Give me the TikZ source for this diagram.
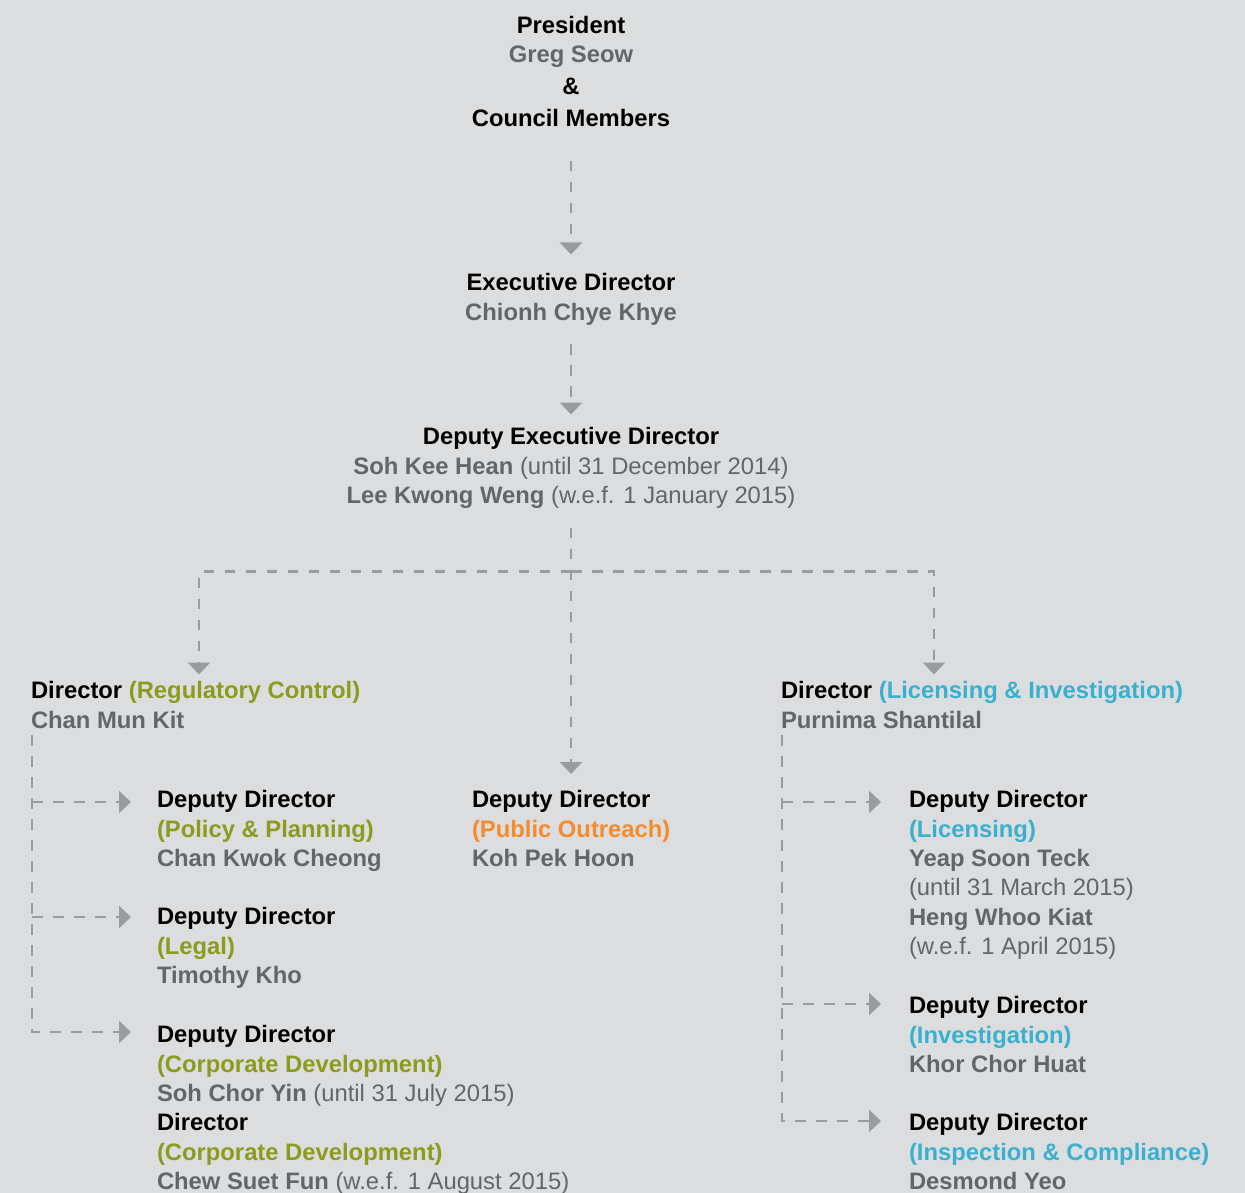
\documentclass[tikz,border=0pt]{standalone}
\usepackage{fontspec}
\setmainfont{Liberation Sans}
\usetikzlibrary{arrows.meta,calc}
\definecolor{bgc}{HTML}{DCDDDF}
\definecolor{namec}{HTML}{646568}
\definecolor{greenc}{HTML}{8C9B1E}
\definecolor{bluec}{HTML}{3AB0CF}
\definecolor{orangec}{HTML}{F58B2A}
\definecolor{linec}{HTML}{9A9B9E}
\newcommand{\st}{\rule[-6pt]{0pt}{23pt}}
\newcommand{\nm}[1]{{\color{namec}#1}}
\newcommand{\rg}[1]{{\color{namec}\mdseries #1}}
\begin{document}
\begin{tikzpicture}[x=1pt,y=-1pt,
  conn/.style={draw=linec, line width=2.6pt, dash pattern=on 10.5pt off 10.5pt,
    -{Triangle[width=22pt,length=12pt]}},
  blk/.style={inner sep=0pt, outer sep=0pt, align=left, anchor=north west,
    font=\fontsize{23.8}{29.4}\selectfont\bfseries},
  cblk/.style={blk, align=center, anchor=north}]
\fill[bgc] (0,0) rectangle (1245,1193);
\useasboundingbox (0,0) rectangle (1245,1193);

% top blocks
\node[cblk] (pres) at (571,16) {\st President\\ \st\nm{Greg Seow}\\[2.6pt] \st\&\\[2.6pt] \st Council Members};
\node[cblk] (exec) at (571,273.5) {\st Executive Director\\ \st\nm{Chionh Chye Khye}};
\node[cblk] (dep) at (571,427.5) {\st Deputy Executive Director\\
  \st\nm{Soh Kee Hean} \rg{(until 31 December 2014)}\\
  \st\nm{Lee Kwong Weng} \rg{(w.e.f. 1 January 2015)}};

% directors
\node[blk] (dirL) at (31,681.5) {\st Director {\color{greenc}(Regulatory Control)}\\ \st\nm{Chan Mun Kit}};
\node[blk] (dirR) at (781,681.5) {\st Director {\color{bluec}(Licensing \& Investigation)}\\ \st\nm{Purnima Shantilal}};

% middle
\node[blk] (po) at (472,790.5) {\st Deputy Director\\ \st{\color{orangec}(Public Outreach)}\\ \st\nm{Koh Pek Hoon}};

% left deputies
\node[blk] (pol) at (157,790.5) {\st Deputy Director\\ \st{\color{greenc}(Policy \& Planning)}\\ \st\nm{Chan Kwok Cheong}};
\node[blk] (leg) at (157,907.5) {\st Deputy Director\\ \st{\color{greenc}(Legal)}\\ \st\nm{Timothy Kho}};
\node[blk] (corp) at (157,1025.5) {\st Deputy Director\\ \st{\color{greenc}(Corporate Development)}\\
  \st\nm{Soh Chor Yin} \rg{(until 31 July 2015)}\\ \st Director\\ \st{\color{greenc}(Corporate Development)}\\
  \st\nm{Chew Suet Fun} \rg{(w.e.f. 1 August 2015)}};

% right deputies
\node[blk] (lic) at (909,790.5) {\st Deputy Director\\ \st{\color{bluec}(Licensing)}\\ \st\nm{Yeap Soon Teck}\\
  \st\rg{(until 31 March 2015)}\\ \st\nm{Heng Whoo Kiat}\\ \st\rg{(w.e.f. 1 April 2015)}};
\node[blk] (inv) at (909,996.5) {\st Deputy Director\\ \st{\color{bluec}(Investigation)}\\ \st\nm{Khor Chor Huat}};
\node[blk] (insp) at (909,1113.5) {\st Deputy Director\\ \st{\color{bluec}(Inspection \& Compliance)}\\ \st\nm{Desmond Yeo}};

% vertical chain
\draw[conn] ([yshift=-28pt]pres.south) -- ([yshift=19pt]exec.north);
\draw[conn] ([yshift=-18pt]exec.south) -- ([yshift=13pt]dep.north);
\draw[conn] ([yshift=-18pt]dep.south) -- ($(dep.south |- po.north)+(0,-16.5)$);

% split to directors
\coordinate (split) at ($(dep.south)+(0,62)$);
\draw[conn] (split) -| ($(dirL.north west)+(168,-7)$);
\draw[conn] (split) -| ($(dirR.north west)+(153,-7)$);

% left branch
\coordinate (Ltop) at ($(dirL.south west)+(1,1)$);
\draw[conn] (Ltop) |- ($(corp.north west)+(-26,6.5)$);
\draw[conn] (Ltop |- {$(pol.north west)+(0,11.5)$}) -- ($(pol.north west)+(-26,11.5)$);
\draw[conn] (Ltop |- {$(leg.north west)+(0,9.5)$}) -- ($(leg.north west)+(-26,9.5)$);

% right branch
\coordinate (Rtop) at ($(dirR.south west)+(1,1)$);
\draw[conn] (Rtop) |- ($(insp.north west)+(-28,7.5)$);
\draw[conn] (Rtop |- {$(lic.north west)+(0,11.5)$}) -- ($(lic.north west)+(-28,11.5)$);
\draw[conn] (Rtop |- {$(inv.north west)+(0,7.5)$}) -- ($(inv.north west)+(-28,7.5)$);
\end{tikzpicture}
\end{document}
